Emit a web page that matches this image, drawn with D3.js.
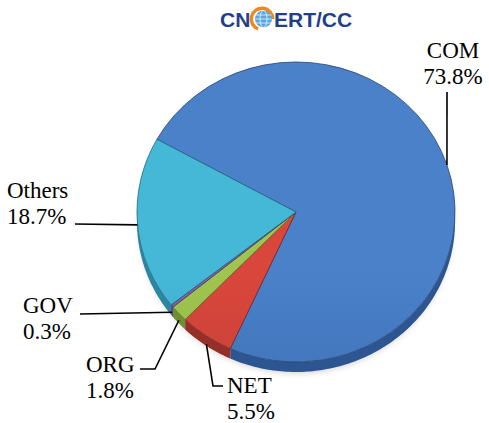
<!DOCTYPE html>
<html>
<head>
<meta charset="utf-8">
<script src="https://d3js.org/d3.v7.min.js"></script>
<style>
  body { margin: 0; background: #fff; }
  svg text.lbl { font-family: "Liberation Serif", "Times New Roman", serif; font-size: 23px; fill: #000; }
</style>
</head>
<body>
<div id="chart-area"></div>
<script>
// data
var categories = ["COM", "NET", "ORG", "GOV", "Others"];
var shares = [73.8, 5.5, 1.8, 0.3, 18.7];
var shareLabels = ["73.8%", "5.5%", "1.8%", "0.3%", "18.7%"];

var width = 489, height = 423;
var cx = 296, cy = 212, rx = 159, ry = 150, depth = 10;
var startAngle = -61 * Math.PI / 180;

var topColor = { COM: "#4a81c9", NET: "#d9473c", ORG: "#9fc44f", GOV: "#8164ac", Others: "#45b7d7" };
var botColor = { COM: "#3564a9", NET: "#b6392f", ORG: "#87ad39", GOV: "#6a4f97", Others: "#34a0bf" };
var sideColor = { COM: "#2d5592", NET: "#962f27", ORG: "#6e8f2e", GOV: "#594085", Others: "#2a87a3" };

// label layout (text position + leader bend points)
var labelLayout = {
  COM:    { x: 453, y: 58,  anchor: "middle", pts: [[447, 92]] },
  Others: { x: 7,   y: 198, anchor: "start",  pts: [[75, 224]] },
  GOV:    { x: 23,  y: 313, anchor: "start",  pts: [[80, 314]] },
  ORG:    { x: 86,  y: 372, anchor: "start",  pts: [[155, 369], [140, 369]] },
  NET:    { x: 227, y: 393, anchor: "start",  pts: [[213, 386], [223, 386]] }
};
var lineGap = 26;

var svg = d3.select("#chart-area")
  .append("svg")
    .attr("width", width)
    .attr("height", height);

var defs = svg.append("defs");

categories.forEach(function(c) {
  var gr = defs.append("linearGradient")
    .attr("id", "grad-" + c)
    .attr("gradientUnits", "userSpaceOnUse")
    .attr("x1", 0).attr("y1", cy - ry)
    .attr("x2", 0).attr("y2", cy + ry);
  gr.append("stop").attr("offset", "0%").attr("stop-color", topColor[c]);
  gr.append("stop").attr("offset", "100%").attr("stop-color", botColor[c]);
});

var blur = defs.append("filter").attr("id", "shadow")
  .attr("x", "-10%").attr("y", "-10%").attr("width", "120%").attr("height", "130%");
blur.append("feGaussianBlur").attr("stdDeviation", 3);

var pie = d3.pie()
  .sort(null)
  .value(function(d) { return d.value; })
  .startAngle(startAngle)
  .endAngle(startAngle + 2 * Math.PI);

var data = categories.map(function(c, i) {
  return { name: c, value: shares[i], label: shareLabels[i] };
});
var arcs = pie(data);

function pt(a, extra) {
  return [cx + rx * Math.sin(a), cy - ry * Math.cos(a) + (extra || 0)];
}

// soft shadow under pie
svg.append("ellipse")
  .attr("cx", cx).attr("cy", cy + depth + 2)
  .attr("rx", rx - 2).attr("ry", ry)
  .attr("fill", "#000")
  .attr("opacity", 0.15)
  .attr("filter", "url(#shadow)");

// side (depth) of the pie, only the front half is visible
var line = d3.line();
var sideG = svg.append("g");
arcs.forEach(function(a) {
  var a0 = Math.max(a.startAngle, Math.PI / 2),
      a1 = Math.min(a.endAngle, 3 * Math.PI / 2);
  if (a1 <= a0) return;
  var n = Math.max(2, Math.ceil((a1 - a0) * 60));
  var upper = d3.range(n + 1).map(function(k) { return pt(a0 + (a1 - a0) * k / n); });
  var lower = d3.range(n + 1).map(function(k) { return pt(a1 - (a1 - a0) * k / n, depth); });
  sideG.append("path")
    .attr("d", line(upper.concat(lower)) + "Z")
    .attr("fill", sideColor[a.data.name]);
});

// top face
var arc = d3.arc().innerRadius(0).outerRadius(rx);
var topG = svg.append("g")
  .attr("transform", "translate(" + cx + "," + cy + ") scale(1," + (ry / rx) + ")");
topG.selectAll("path")
  .data(arcs)
  .enter()
  .append("path")
    .attr("d", arc)
    .attr("fill", function(d) { return "url(#grad-" + d.data.name + ")"; })
    .attr("stroke", function(d) { return d3.color(botColor[d.data.name]).darker(1.2); })
    .attr("stroke-width", 0.8)
    .attr("vector-effect", "non-scaling-stroke");

// leader lines + labels
arcs.forEach(function(a) {
  var lay = labelLayout[a.data.name];
  var mid = (a.startAngle + a.endAngle) / 2;
  var c = Math.cos(mid);
  var anchorPt = pt(mid, c < 0 ? -c * depth : 0);
  svg.append("path")
    .attr("d", line([anchorPt].concat(lay.pts)))
    .attr("fill", "none")
    .attr("stroke", "#000")
    .attr("stroke-width", 1.6);
  var t = svg.append("text")
    .attr("class", "lbl")
    .attr("text-anchor", lay.anchor);
  t.append("tspan").attr("x", lay.x).attr("y", lay.y).text(a.data.name);
  t.append("tspan").attr("x", lay.x).attr("y", lay.y + lineGap).text(a.data.label);
});

// logo
var logo = svg.append("g");
logo.append("text")
  .attr("x", 220).attr("y", 27)
  .attr("font-family", "Liberation Sans, Arial, sans-serif")
  .attr("font-weight", "bold")
  .attr("font-size", 21)
  .attr("fill", "#233f8c")
  .text("CN");
logo.append("text")
  .attr("x", 274).attr("y", 27)
  .attr("font-family", "Liberation Sans, Arial, sans-serif")
  .attr("font-weight", "bold")
  .attr("font-size", 21)
  .attr("fill", "#233f8c")
  .text("ERT/CC");
var gx = 262, gy = 19;
logo.append("path")
  .attr("d", d3.arc().innerRadius(9).outerRadius(12.5).startAngle(Math.PI * 0.12).endAngle(Math.PI * 1.5)())
  .attr("transform", "translate(" + gx + "," + gy + ") rotate(180)")
  .attr("fill", "#f0891c");
logo.append("circle")
  .attr("cx", gx + 1.5).attr("cy", gy)
  .attr("r", 8.5)
  .attr("fill", "#5aa6e0");
[-4, 0, 4].forEach(function(o) {
  logo.append("line")
    .attr("x1", gx - 6.5).attr("x2", gx + 9.5)
    .attr("y1", gy + o).attr("y2", gy + o)
    .attr("stroke", "#fff").attr("stroke-width", 0.7);
});
logo.append("ellipse")
  .attr("cx", gx + 1.5).attr("cy", gy)
  .attr("rx", 3.5).attr("ry", 8.5)
  .attr("fill", "none").attr("stroke", "#fff").attr("stroke-width", 0.7);
</script>
</body>
</html>
